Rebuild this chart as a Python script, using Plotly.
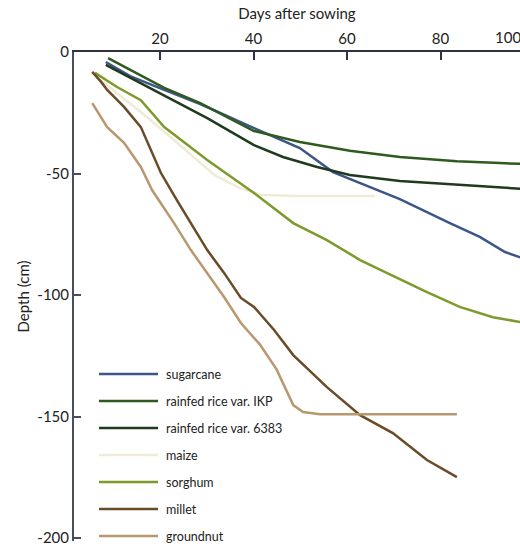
import plotly.graph_objects as go

# ---- data (days after sowing, rooting depth in cm) ----
sugarcane_days = [8.4, 13.6, 20.9, 28.6, 40.1, 49.9, 57.0, 64.9, 71.3, 82.0, 88.4, 93.8, 98.1]
sugarcane_depth = [-4.1, -9.9, -15.6, -21.4, -31.3, -39.5, -49.4, -55.6, -60.5, -70.4, -76.1, -82.3, -85.2]

ikp_days = [8.9, 13.6, 20.9, 28.6, 40.1, 49.9, 60.6, 71.3, 83.5, 92.7, 98.1]
ikp_depth = [-2.5, -7.4, -14.8, -21.0, -32.5, -37.0, -40.6, -43.2, -44.9, -45.7, -46.1]

r6383_days = [8.4, 15.9, 23.0, 30.1, 40.1, 46.3, 53.6, 60.6, 71.3, 83.5, 90.6, 98.1]
r6383_depth = [-5.3, -12.8, -19.8, -27.2, -38.3, -43.2, -47.3, -50.6, -53.1, -54.7, -55.6, -56.4]

maize_days = [7.2, 11.4, 15.9, 23.0, 31.6, 37.1, 41.8, 49.9, 66.0]
maize_depth = [-11.5, -17.7, -24.7, -36.2, -50.6, -56.0, -58.8, -59.3, -59.3]

sorghum_days = [6.1, 10.8, 15.9, 20.9, 30.1, 40.1, 48.5, 55.7, 62.8, 69.8, 77.1, 84.1, 91.2, 98.1]
sorghum_depth = [-8.6, -14.4, -19.8, -30.9, -44.4, -58.0, -70.4, -77.4, -85.6, -92.2, -98.8, -104.9, -109.1, -111.5]

millet_days = [5.5, 7.4, 8.7, 12.3, 15.9, 20.2, 23.6, 26.6, 30.1, 33.7, 37.3, 40.1, 44.4, 48.5, 55.7, 62.8, 69.8, 77.1, 83.5]
millet_depth = [-8.2, -12.3, -15.6, -22.6, -30.9, -49.8, -60.9, -70.4, -81.5, -90.9, -101.2, -104.9, -114.4, -124.7, -137.9, -149.4, -156.8, -167.9, -174.9]

groundnut_days = [5.5, 8.7, 12.3, 15.9, 18.3, 23.0, 26.6, 30.1, 33.7, 37.3, 41.3, 44.9, 48.5, 50.6, 54.2, 83.5]
groundnut_depth = [-21.0, -30.9, -37.4, -47.3, -56.8, -70.4, -81.5, -90.9, -100.8, -111.5, -120.2, -130.5, -145.3, -148.1, -149.0, -149.0]

series_names = ["sugarcane", "rainfed rice var. IKP", "rainfed rice var. 6383",
                "maize", "sorghum", "millet", "groundnut"]
series_x = [sugarcane_days, ikp_days, r6383_days, maize_days, sorghum_days, millet_days, groundnut_days]
series_y = [sugarcane_depth, ikp_depth, r6383_depth, maize_depth, sorghum_depth, millet_depth, groundnut_depth]
series_colors = ["#3d5688", "#2f5a1f", "#1f3b1d", "#eeecd6", "#7d9b2b", "#6a4b27", "#b8986e"]

x_ticks = [20, 40, 60, 80, 100]
y_ticks = [0, -50, -100, -150, -200]

FONT = "Lato, 'Open Sans', sans-serif"
W, H = 520, 546
ML, MR, MT, MB = 74, 0, 52, 5
PW, PH = W - ML - MR, H - MT - MB


def px_x(p):
    return (p - ML) / PW


def px_y(p):
    return (H - MB - p) / PH


fig = go.Figure()
for name, xs, ys, col in zip(series_names, series_x, series_y, series_colors):
    fig.add_trace(go.Scatter(x=xs, y=ys, mode="lines", name=name, showlegend=False,
                             line=dict(color=col, width=2.5)))

# legend drawn as key lines + labels (long key lines as in the original)
shapes, annotations = [], []
for i, (name, col) in enumerate(zip(series_names, series_colors)):
    yy = px_y(374 + 27 * i)
    shapes.append(dict(type="line", xref="paper", yref="paper", x0=px_x(99), x1=px_x(158),
                       y0=yy, y1=yy, line=dict(color=col, width=2.5)))
    annotations.append(dict(text=name, xref="paper", yref="paper", x=px_x(164), y=yy,
                            xanchor="left", yanchor="middle", showarrow=False,
                            font=dict(size=12.5, color="#222")))

annotations.append(dict(text="100", xref="paper", yref="paper", x=px_x(493), y=1,
                        xanchor="left", yanchor="bottom", yshift=4, showarrow=False,
                        font=dict(size=15, color="#222")))

fig.update_layout(
    width=W, height=H,
    margin=dict(l=ML, r=MR, t=MT, b=MB),
    paper_bgcolor="white", plot_bgcolor="white",
    font=dict(family=FONT, color="#222", size=14),
    showlegend=False,
    shapes=shapes,
    annotations=annotations,
)
fig.update_xaxes(range=[1.6, 97.0], side="top", showline=True, linecolor="#2e3245", linewidth=2,
                 ticks="inside", ticklen=8, tickwidth=2, tickcolor="#2e3245",
                 tickvals=x_ticks, ticktext=[str(v) for v in x_ticks],
                 tickfont=dict(size=15), showgrid=False, zeroline=False, ticklabeloverflow="allow",
                 title=dict(text="Days after sowing", font=dict(size=15), standoff=6))
fig.update_yaxes(range=[-201.2, 0], showline=True, linecolor="#4a4d5e", linewidth=2,
                 ticks="inside", ticklen=7, tickwidth=2, tickcolor="#4a4d5e",
                 tickvals=y_ticks, ticktext=[str(v) for v in y_ticks],
                 tickfont=dict(size=15), showgrid=False, zeroline=False, ticklabeloverflow="allow",
                 title=dict(text="Depth (cm)", font=dict(size=15), standoff=4))

fig.write_html("out.html", config={"displayModeBar": False},
               post_script="document.body.style.margin='0px';document.body.style.overflow='hidden';")
